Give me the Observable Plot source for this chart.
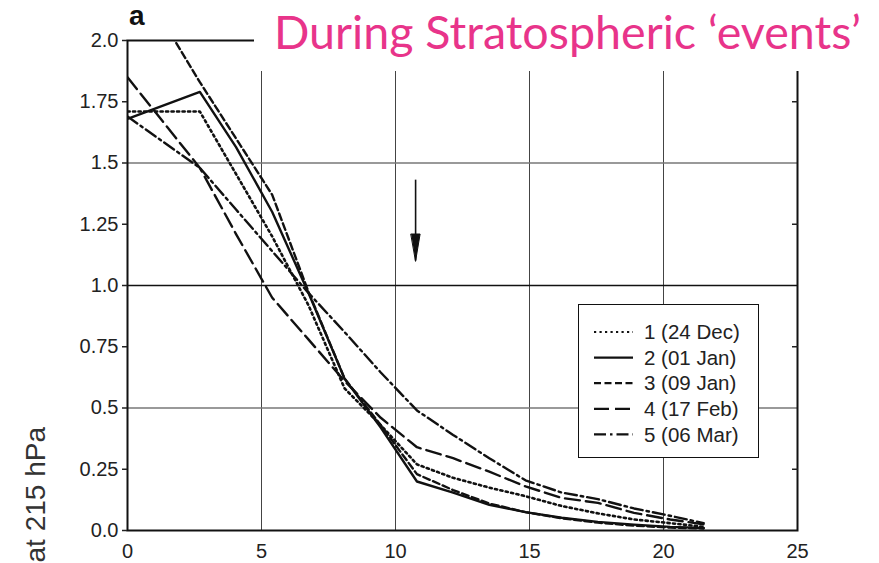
<!DOCTYPE html>
<html><head><meta charset="utf-8">
<script src="https://cdn.jsdelivr.net/npm/d3@7"></script>
<script src="https://cdn.jsdelivr.net/npm/@observablehq/plot@0.6"></script>
<style>
body{margin:0;background:#fff;}
#wrap{position:relative;width:879px;height:563px;overflow:hidden;background:#fff;font-family:"Liberation Sans",Arial,sans-serif;}
#wrap svg.plot{display:block;}
#title{position:absolute;left:254px;top:0;width:625px;height:71px;background:#fff;}
#legend{position:absolute;left:578px;top:304px;width:181px;height:154px;box-sizing:border-box;border:1.5px solid #111;background:#fff;}
#overlay{position:absolute;left:0;top:0;pointer-events:none;}
</style></head>
<body><div id="wrap"></div>
<script>
// ---- data ----
const xKnots = [0, 2.7, 4.05, 5.4, 6.75, 8.1, 9.45, 10.8, 12.15, 13.5, 14.85, 16.2, 17.55, 18.9, 20.25, 21.5];
const s1 = [1.71, 1.71, 1.455, 1.20, 0.92, 0.58, 0.43, 0.27, 0.215, 0.175, 0.14, 0.10, 0.07, 0.045, 0.03, 0.015];
const s2 = [1.68, 1.79, 1.565, 1.30, 0.97, 0.62, 0.42, 0.20, 0.155, 0.105, 0.075, 0.052, 0.035, 0.024, 0.015, 0.01];
const s3 = [2.32, 1.83, 1.60, 1.37, 0.975, 0.62, 0.43, 0.23, 0.165, 0.11, 0.075, 0.05, 0.032, 0.02, 0.012, 0.008];
const s4 = [1.85, 1.48, 1.21, 0.95, 0.78, 0.61, 0.46, 0.34, 0.295, 0.24, 0.18, 0.133, 0.113, 0.072, 0.045, 0.025];
const s5 = [1.69, 1.48, 1.31, 1.14, 0.97, 0.81, 0.645, 0.49, 0.39, 0.295, 0.205, 0.155, 0.128, 0.09, 0.06, 0.03];
const seriesNames = ["1 (24 Dec)", "2 (01 Jan)", "3 (09 Jan)", "4 (17 Feb)", "5 (06 Mar)"];
const seriesDash = ["2.2,3.3", null, "7,3.5", "15,6", "12,4,2.5,4"];
const xTicks = [0, 5, 10, 15, 20, 25];
const yTicks = [0, 0.25, 0.5, 0.75, 1.0, 1.25, 1.5, 1.75, 2.0];
const yTickLabels = ["0.0", "0.25", "0.5", "0.75", "1.0", "1.25", "1.5", "1.75", "2.0"];
const arrowX = [10.75], arrowTop = [1.43], arrowTip = [1.10];
const titleText = "During Stratospheric \u2018events\u2019";
const panelLabel = "a";
const yLabelText = "at 215 hPa";

// ---- build tables ----
const allSeries = [s1, s2, s3, s4, s5];
const rows = allSeries.flatMap((ys, k) => ys.map((y, i) => ({s: k, x: xKnots[i], y})));
const arrowData = arrowX.map((x, i) => ({x, y1: arrowTop[i], y2: arrowTip[i]}));
const headShape = {draw(ctx, l) { ctx.moveTo(0, -l); ctx.lineTo(-4.5, 0); ctx.lineTo(4.5, 0); ctx.closePath(); }};

const lineMarks = allSeries.map((_, k) => Plot.line(rows.filter(d => d.s === k), {
  x: "x", y: "y", stroke: "#111", strokeWidth: k === 0 ? 2.6 : 2.4,
  strokeDasharray: seriesDash[k] ?? undefined, clip: true
}));

const chart = Plot.plot({
  width: 879, height: 563,
  marginLeft: 127, marginRight: 82, marginTop: 40, marginBottom: 33,
  x: {domain: [0, 25]},
  y: {domain: [0, 2]},
  style: {fontFamily: "'Liberation Sans', Arial, sans-serif", fontSize: "20px", color: "#222", background: "#fff"},
  marks: [
    Plot.gridX([5, 10, 15, 20], {stroke: "#444", strokeOpacity: 1, strokeWidth: 1}),
    Plot.gridY([0.5, 1.5], {stroke: "#777", strokeOpacity: 1, strokeWidth: 1.3}),
    Plot.gridY([1.0], {stroke: "#111", strokeOpacity: 1, strokeWidth: 1.6}),
    ...lineMarks,
    Plot.ruleX(arrowData, {x: "x", y1: "y1", y2: "y2", stroke: "#111", strokeWidth: 1.6}),
    Plot.vector(arrowData, {x: "x", y: "y2", length: 27, rotate: 180, anchor: "end", shape: headShape, fill: "#111", stroke: "#111", strokeWidth: 1}),
    Plot.frame({stroke: "#111", strokeWidth: 2}),
    Plot.axisX({ticks: xTicks, tickSize: 0, tickPadding: 13, label: null, tickFormat: d => String(d)}),
    Plot.axisY({ticks: yTicks, tickSize: 5, tickPadding: 4, label: null, tickFormat: d => yTickLabels[yTicks.indexOf(d)], strokeWidth: 1.5}),
    Plot.axisY({anchor: "right", ticks: [0.25, 0.75, 1.25, 1.75], tickSize: -6, tickFormat: () => "", label: null, strokeWidth: 1.5})
  ]
});
chart.classList.add("plot");
const wrap = document.getElementById("wrap");
wrap.appendChild(chart);

// title (covers the top-right of the frame, as in the reference)
const title = document.createElement("div");
title.id = "title";
wrap.appendChild(title);
const ts = d3.select(title).append("svg").attr("width", 625).attr("height", 71);
ts.append("text").attr("x", 20).attr("y", 49)
  .attr("font-family", "Lato, 'Open Sans', sans-serif").attr("font-size", 46)
  .attr("fill", "#e8348a").attr("textLength", 587).attr("lengthAdjust", "spacingAndGlyphs")
  .text(titleText);

// overlay texts
const ov = d3.select(wrap).append("svg").attr("id", "overlay").attr("width", 879).attr("height", 563);
ov.append("text").attr("x", 129).attr("y", 25).attr("font-family", "'Liberation Sans', Arial, sans-serif")
  .attr("font-weight", "bold").attr("font-size", 28).attr("fill", "#111").text(panelLabel);
ov.append("text").attr("transform", "translate(45,427) rotate(-90)").attr("text-anchor", "end")
  .attr("font-family", "'Liberation Sans', Arial, sans-serif").attr("font-size", 28).attr("fill", "#333").text(yLabelText);

// legend
const lg = document.createElement("div");
lg.id = "legend";
wrap.appendChild(lg);
const ls = d3.select(lg).append("svg").attr("width", 178).attr("height", 151);
seriesNames.forEach((name, k) => {
  const cy = 27 + k * 25.6;
  ls.append("line").attr("x1", 15).attr("x2", 54).attr("y1", cy).attr("y2", cy)
    .attr("stroke", "#111").attr("stroke-width", 2.2).attr("stroke-dasharray", seriesDash[k]);
  ls.append("text").attr("x", 65).attr("y", cy).attr("dy", "0.35em")
    .attr("font-family", "'Liberation Sans', Arial, sans-serif").attr("font-size", 20.5).attr("fill", "#222").text(name);
});
</script></body></html>
